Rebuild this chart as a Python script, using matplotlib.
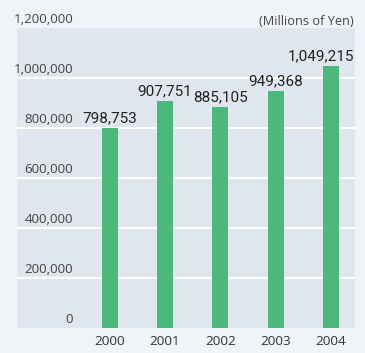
import matplotlib.pyplot as plt
from matplotlib.transforms import blended_transform_factory

years = ['2000', '2001', '2002', '2003', '2004']
values = [798753, 907751, 885105, 949368, 1049215]
yticks = [0, 200000, 400000, 600000, 800000, 1000000, 1200000]

bg = '#f0f4f8'
panel = '#dfe6ee'
bar_clr = '#4cb97b'
txt = '#333333'

fig = plt.figure(figsize=(3.65, 3.53), dpi=100, facecolor=bg)
ax = fig.add_axes([17/365, 25/353, 338/365, 300/353])
ax.set_facecolor(panel)

x = list(range(len(years)))
ax.bar(x, values, width=0.29, color=bar_clr, zorder=3)

ax.set_xlim(-1.67, 4.43)
ax.set_ylim(0, 1200000)

for v in yticks[1:-1]:
    ax.axhline(v, color='white', lw=1.5, zorder=1)

for s in ax.spines.values():
    s.set_visible(False)
ax.set_yticks([])
ax.set_xticks(x)
ax.set_xticklabels(years, fontsize=9.7, color=txt, family='Open Sans')
ax.tick_params(axis='x', length=0, pad=5)

trans = blended_transform_factory(ax.transAxes, ax.transData)
for v in yticks:
    ax.annotate(f'{v:,}', xy=(0.166, v), xycoords=trans, xytext=(0, 3.5),
                textcoords='offset points', ha='right', va='baseline',
                fontsize=9.6, color='#444444', family='Open Sans',
                annotation_clip=False)

# last label would run past the panel, so it is right-aligned to the edge
for xi, v in zip(x, values):
    if xi == x[-1]:
        ax.annotate(f'{v:,}', xy=(0.997, v), xycoords=trans, xytext=(0, 4),
                    textcoords='offset points', ha='right', va='baseline',
                    fontsize=11, color='#222222', family='Roboto', zorder=4)
    else:
        ax.annotate(f'{v:,}', xy=(xi, v), xytext=(0, 4), textcoords='offset points',
                    ha='center', va='baseline', fontsize=11, color='#222222',
                    family='Roboto', zorder=4)

ax.text(0.995, 1.0, '(Millions of Yen)', transform=ax.transAxes, ha='right',
        va='bottom', fontsize=9.2, color='#444444', family='Open Sans')

fig.savefig('out.png', dpi=100, facecolor=bg)
